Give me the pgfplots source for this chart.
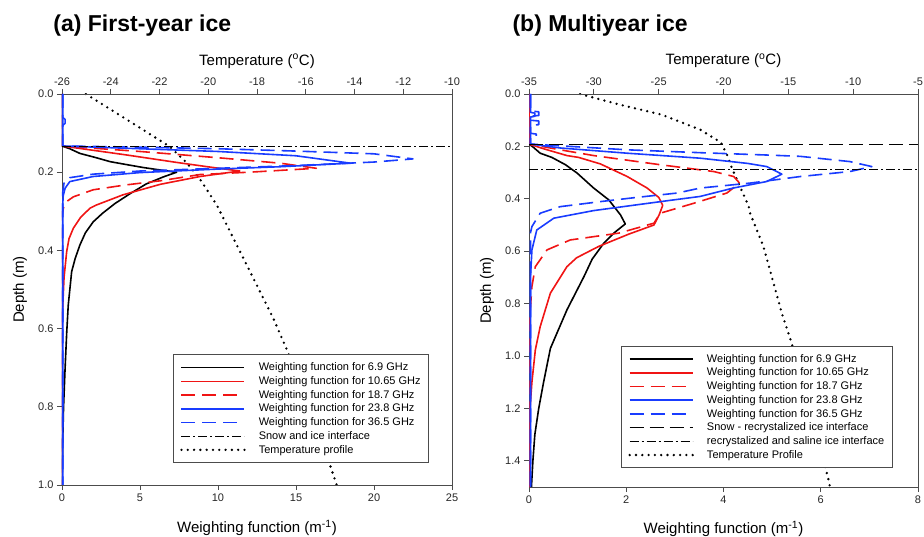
\documentclass[border=0pt]{standalone}
\usepackage{pgfplots}
\pgfplotsset{compat=1.18}
\usepackage{fontspec}
\setmainfont{Liberation Sans}
\definecolor{wred}{RGB}{240,20,20}
\definecolor{wblue}{RGB}{25,60,255}
\pgfplotsset{
  every axis/.append style={
    scale only axis, anchor=south west,
    /pgf/number format/assume math mode=true,
    tick label style={font=\fontsize{11}{13}\selectfont, text=black!85},
    label style={font=\fontsize{15}{18}\selectfont},
    axis line style={black!70, line width=0.8pt},
    tick style={black!70, line width=0.8pt},
    tick align=outside, major tick length=5pt,
    y dir=reverse,
  },
  wf/.style={line width=1.6pt, line join=round},
  dsh/.style={dash pattern=on 14pt off 7pt},
  temp/.style={black, line width=2.6pt, line cap=round, dash pattern=on 0pt off 6.3pt},
  legend image code/.code={\draw[#1] (0pt,0pt) -- (63pt,0pt);},
  mylegend/.style={legend style={draw=black!70, line width=0.8pt, fill=white,
      inner xsep=7pt, inner ysep=6pt, column sep=12pt, row sep=0pt,
      font=\fontsize{11}{13}\selectfont,
      nodes={inner sep=1pt, text height=9pt, text depth=2.7pt},
      legend cell align=left, anchor=south east}},
  mytitle/.style={title style={font=\fontsize{23}{27}\selectfont\bfseries, yshift=-6pt, anchor=base west, at={#1}}},
}
\begin{document}
\begin{tikzpicture}
\useasboundingbox (0,0) rectangle (924pt,537pt);
% ===== Panel (a) temperature axis =====
\begin{axis}[at={(62pt,52pt)}, width=390pt, height=391pt,
  xmin=-26, xmax=-10, ymin=0, ymax=1,
  xtick={-26,-24,...,-10}, xtick pos=right, xticklabel pos=right,
  hide y axis,
  xlabel={Temperature (\textsuperscript{o}C)},
  xlabel style={at={(axis description cs:0.5,1.074)}, anchor=base},
]
\addplot[temp] coordinates {(-25.02,0) (-23.3,0.067) (-21.57,0.135) (-20.9,0.175) (-20.41,0.211) (-19.65,0.284) (-18.56,0.42) (-17.33,0.574) (-16.8,0.65) (-15.7,0.82) (-14.73,1.0)};
\end{axis}
% ===== Panel (a) weighting axis =====
\begin{axis}[at={(62pt,52pt)}, width=390pt, height=391pt,
  xmin=0, xmax=25, ymin=0, ymax=1,
  xtick={0,5,...,25}, ytick={0,0.2,...,1.0},
  xtick pos=left, ytick pos=left,
  yticklabel style={/pgf/number format/.cd, fixed, fixed zerofill, precision=1},
  xlabel={Weighting function (m\textsuperscript{-1})},
  xlabel style={at={(axis description cs:0.5,-0.122)}, anchor=base},
  ylabel={Depth (m)},
  ylabel style={at={(axis description cs:-0.1077,0.5)}, anchor=center},
  title={(a) First-year ice},
  mytitle={(axis description cs:-0.031,1.16)},
  mylegend, legend style={at={(axis description cs:0.941,0.056)}},
]
\addplot[wf, black] coordinates {(0,0) (0,0.133) (0.5,0.14) (1.15,0.152) (2.2,0.163) (3.08,0.173) (4.2,0.181) (5.2,0.188) (6.4,0.195) (7.35,0.2) (6.5,0.212) (5.4,0.23) (4.36,0.255) (3.4,0.28) (2.6,0.305) (2.0,0.327) (1.5,0.355) (1.15,0.386) (0.85,0.42) (0.62,0.454) (0.4,0.54) (0.3,0.612) (0.2,0.7) (0.1,0.8) (0.04,0.9) (0,1.0)};
\addlegendentry{Weighting function for 6.9 GHz}
\addplot[wf, wred] coordinates {(0,0) (0,0.133) (2,0.144) (4.15,0.156) (7.35,0.175) (9.5,0.187) (11.4,0.197) (8.85,0.211) (6.3,0.231) (3.9,0.258) (2.2,0.284) (1.8,0.292) (1.2,0.315) (0.73,0.343) (0.45,0.37) (0.3,0.403) (0.13,0.47) (0.04,0.55) (0,0.65) (0,1.0)};
\addlegendentry{Weighting function for 10.65 GHz}
\addplot[wf, wred, dsh] coordinates {(0,0) (0,0.133) (5,0.147) (10,0.163) (14,0.177) (16.3,0.19) (12,0.2) (8.85,0.206) (6.3,0.222) (4,0.233) (2,0.245) (0.73,0.263) (0.3,0.275) (0.1,0.29) (0,0.31) (0,1.0)};
\addlegendentry{Weighting function for 18.7 GHz}
\addplot[wf, wblue] coordinates {(0.05,0) (0.05,0.133) (5,0.14) (10,0.147) (15,0.158) (18.5,0.177) (14,0.186) (10,0.192) (5,0.201) (2,0.211) (0.5,0.224) (0.2,0.241) (0.08,0.26) (0.05,0.28) (0.05,1.0)};
\addlegendentry{Weighting function for 23.8 GHz}
\addplot[wf, wblue, dsh] coordinates {(0.05,0) (0.05,0.06) (0.2,0.065) (0.2,0.075) (0.05,0.08) (0.05,0.133) (5,0.136) (10,0.14) (15,0.146) (20,0.153) (22.5,0.166) (20,0.174) (15,0.183) (10,0.19) (5,0.197) (2,0.205) (0.5,0.214) (0.13,0.228) (0.05,0.25) (0.05,1.0)};
\addlegendentry{Weighting function for 36.5 GHz}
\addplot[black, line width=0.8pt, dash pattern=on 9pt off 3pt on 2pt off 3pt] coordinates {(0,0.133) (25,0.133)};
\addlegendentry{Snow and ice interface}
\addlegendimage{temp}
\addlegendentry{Temperature profile}
\end{axis}
% ===== Panel (b) temperature axis =====
\begin{axis}[at={(529pt,50pt)}, width=389pt, height=393pt,
  xmin=-35, xmax=-5, ymin=0, ymax=1.5,
  xtick={-35,-30,...,-5}, xtick pos=right, xticklabel pos=right,
  hide y axis,
  xlabel={Temperature (\textsuperscript{o}C)},
  xlabel style={at={(axis description cs:0.5,1.0746)}, anchor=base},
]
\addplot[temp] coordinates {(-31.06,0) (-27.98,0.041) (-24.76,0.079) (-21.8,0.136) (-20.2,0.185) (-19.73,0.232) (-19.35,0.283) (-18.9,0.334) (-18.05,0.43) (-17.95,0.455) (-16.92,0.582) (-15.5,0.837) (-14.78,0.945) (-13.5,1.17) (-11.83,1.486) (-11.8,1.5)};
\end{axis}
% ===== Panel (b) weighting axis =====
\begin{axis}[at={(529pt,50pt)}, width=389pt, height=393pt,
  xmin=0, xmax=8, ymin=0, ymax=1.5,
  xtick={0,2,...,8}, ytick={0,0.2,...,1.4},
  xtick pos=left, ytick pos=left,
  yticklabel style={/pgf/number format/.cd, fixed, fixed zerofill, precision=1},
  xlabel={Weighting function (m\textsuperscript{-1})},
  xlabel style={at={(axis description cs:0.5,-0.118)}, anchor=base},
  ylabel={Depth (m)},
  ylabel style={at={(axis description cs:-0.108,0.5)}, anchor=center},
  title={(b) Multiyear ice},
  mytitle={(axis description cs:-0.0514,1.159)},
  mylegend, legend style={at={(axis description cs:0.935,0.0476)}},
]
\addplot[wf, black] coordinates {(0,0) (0,0.191) (0.1,0.205) (0.23,0.226) (0.47,0.242) (0.75,0.27) (0.99,0.302) (1.33,0.359) (1.64,0.404) (1.88,0.461) (1.98,0.496) (1.75,0.53) (1.54,0.569) (1.3,0.63) (1.13,0.697) (0.78,0.824) (0.44,0.971) (0.3,1.1) (0.2,1.2) (0.12,1.3) (0.08,1.4) (0.05,1.5)};
\addlegendentry{Weighting function for 6.9 GHz}
\addplot[wf, wred] coordinates {(0,0) (0,0.191) (0.3,0.209) (0.78,0.235) (1.02,0.242) (1.47,0.267) (2.02,0.315) (2.43,0.359) (2.67,0.395) (2.75,0.425) (2.68,0.46) (2.57,0.5) (2.05,0.535) (1.43,0.582) (0.98,0.625) (0.78,0.659) (0.44,0.76) (0.23,0.888) (0.13,0.977) (0.06,1.1) (0.02,1.2) (0,1.3) (0,1.5)};
\addlegendentry{Weighting function for 10.65 GHz}
\addplot[wf, wred, dsh] coordinates {(0,0) (0,0.191) (0.64,0.213) (1.33,0.235) (2.7,0.27) (3.8,0.296) (4.21,0.315) (4.33,0.34) (4.07,0.378) (3.39,0.417) (2.7,0.455) (2.57,0.493) (1.85,0.531) (0.85,0.557) (0.37,0.595) (0.13,0.659) (0.06,0.735) (0.02,0.84) (0,0.95) (0,1.5)};
\addlegendentry{Weighting function for 18.7 GHz}
\addplot[wf, wblue] coordinates {(0.03,0) (0.03,0.07) (0.12,0.073) (0.12,0.085) (0.03,0.088) (0.03,0.191) (0.64,0.206) (2.02,0.226) (3.52,0.245) (4.5,0.265) (4.89,0.277) (5.2,0.306) (4.89,0.334) (4.2,0.359) (3.52,0.391) (2.9,0.406) (1.33,0.445) (0.51,0.474) (0.16,0.519) (0.06,0.595) (0.03,0.7) (0.03,1.5)};
\addlegendentry{Weighting function for 23.8 GHz}
\addplot[wf, wblue, dsh] coordinates {(0.03,0) (0.03,0.065) (0.2,0.068) (0.2,0.082) (0.03,0.085) (0.03,0.1) (0.2,0.103) (0.2,0.117) (0.03,0.12) (0.03,0.15) (0.15,0.153) (0.15,0.165) (0.03,0.168) (0.03,0.191) (2.02,0.213) (3.52,0.224) (4.9,0.233) (5.58,0.238) (6.6,0.258) (7.05,0.277) (6.6,0.296) (5.58,0.315) (4.55,0.34) (3.52,0.359) (3.05,0.378) (2.2,0.395) (1.5,0.41) (0.64,0.43) (0.23,0.455) (0.06,0.506) (0.03,0.53) (0.03,1.5)};
\addlegendentry{Weighting function for 36.5 GHz}
\addplot[black, line width=0.8pt, dash pattern=on 14pt off 6pt] coordinates {(0,0.191) (8,0.191)};
\addlegendentry{Snow - recrystalized ice interface}
\addplot[black, line width=0.8pt, dash pattern=on 9pt off 3pt on 2pt off 3pt] coordinates {(0,0.287) (8,0.287)};
\addlegendentry{recrystalized and saline ice interface}
\addlegendimage{temp}
\addlegendentry{Temperature Profile}
\end{axis}
\end{tikzpicture}
\end{document}
